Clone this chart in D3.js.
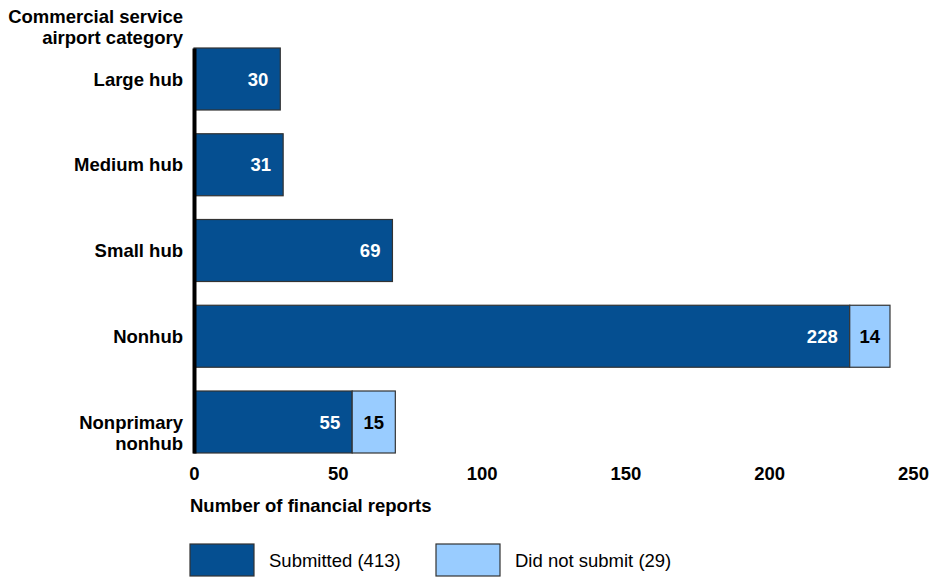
<!DOCTYPE html>
<html>
<head>
<meta charset="utf-8">
<script src="https://cdn.jsdelivr.net/npm/d3@7"></script>
<style>
  body { margin: 0; background: #fff; }
  svg { display: block; font-family: "Liberation Sans", Arial, sans-serif; }
</style>
</head>
<body>
<svg id="chart" width="932" height="578"></svg>
<script>
// Financial reports by commercial service airport category
const categories = ["Large hub", "Medium hub", "Small hub", "Nonhub", "Nonprimary nonhub"];
const submitted = [30, 31, 69, 228, 55];
const notSubmitted = [0, 0, 0, 14, 15];
const xTicks = [0, 50, 100, 150, 200, 250];
const seriesNames = ["Submitted (413)", "Did not submit (29)"];
const colors = ["#054f91", "#99ccff"];

const FS = 18.5;
const svg = d3.select("#chart");
const x = d3.scaleLinear().domain([0, 250]).range([194, 913]);
const y = d3.scaleBand().domain(categories).range([48, 453]).paddingInner(0.277).paddingOuter(0);

const rows = categories.map((c, i) => ({ cat: c, s: submitted[i], n: notSubmitted[i] }));

// submitted segments
svg.selectAll("rect.sub").data(rows).join("rect")
  .attr("x", x(0)).attr("y", d => y(d.cat))
  .attr("width", d => x(d.s) - x(0)).attr("height", y.bandwidth())
  .attr("fill", colors[0]).attr("stroke", "#333").attr("stroke-width", 1.2);

// not-submitted segments
svg.selectAll("rect.ns").data(rows.filter(d => d.n > 0)).join("rect")
  .attr("x", d => x(d.s)).attr("y", d => y(d.cat))
  .attr("width", d => x(d.s + d.n) - x(d.s)).attr("height", y.bandwidth())
  .attr("fill", colors[1]).attr("stroke", "#333").attr("stroke-width", 1.2);

// value labels
svg.selectAll("text.sv").data(rows).join("text")
  .attr("x", d => x(d.s) - 12).attr("y", d => y(d.cat) + y.bandwidth() / 2)
  .attr("dy", "0.36em").attr("text-anchor", "end")
  .attr("fill", "#fff").attr("font-weight", "bold").attr("font-size", FS)
  .text(d => d.s);

svg.selectAll("text.nv").data(rows.filter(d => d.n > 0)).join("text")
  .attr("x", d => (x(d.s) + x(d.s + d.n)) / 2).attr("y", d => y(d.cat) + y.bandwidth() / 2)
  .attr("dy", "0.36em").attr("text-anchor", "middle")
  .attr("fill", "#000").attr("font-weight", "bold").attr("font-size", FS)
  .text(d => d.n);

// category axis line
const yAxis = svg.append("g").attr("transform", `translate(${x(0)},0)`)
  .call(d3.axisLeft(y).tickSize(0).tickFormat(() => ""));
yAxis.select(".domain").attr("stroke", "#000").attr("stroke-width", 4);

// category labels (wrapped names continue below the first line)
const catLabels = {
  "Large hub": ["Large hub"],
  "Medium hub": ["Medium hub"],
  "Small hub": ["Small hub"],
  "Nonhub": ["Nonhub"],
  "Nonprimary nonhub": ["Nonprimary", "nonhub"]
};
categories.forEach(c => {
  const lines = catLabels[c];
  const cy = y(c) + y.bandwidth() / 2;
  const t = svg.append("text").attr("text-anchor", "end")
    .attr("font-weight", "bold").attr("font-size", FS).attr("fill", "#000");
  lines.forEach((l, i) => {
    t.append("tspan").attr("x", 183).attr("y", cy + i * 21)
      .attr("dy", "0.36em").text(l);
  });
});

// category axis title
const yt = svg.append("text").attr("text-anchor", "end")
  .attr("font-weight", "bold").attr("font-size", FS).attr("fill", "#000");
yt.append("tspan").attr("x", 183).attr("y", 23).text("Commercial service");
yt.append("tspan").attr("x", 183).attr("y", 44).text("airport category");

// value axis
const xAxis = svg.append("g").attr("transform", "translate(0,456)")
  .call(d3.axisBottom(x).tickValues(xTicks).tickSize(0).tickPadding(11));
xAxis.select(".domain").remove();
xAxis.selectAll("text").attr("font-family", "Liberation Sans, Arial, sans-serif")
  .attr("font-size", FS).attr("font-weight", "bold").attr("fill", "#000");

svg.append("text").attr("x", 190).attr("y", 512)
  .attr("font-weight", "bold").attr("font-size", FS).attr("fill", "#000")
  .text("Number of financial reports");

// legend
const legendX = [190, 436];
seriesNames.forEach((name, i) => {
  svg.append("rect").attr("x", legendX[i]).attr("y", 544).attr("width", 64).attr("height", 32)
    .attr("fill", colors[i]).attr("stroke", "#333").attr("stroke-width", 1.2);
  svg.append("text").attr("x", legendX[i] + 79).attr("y", 567)
    .attr("font-size", FS).attr("fill", "#000").text(name);
});
</script>
</body>
</html>
